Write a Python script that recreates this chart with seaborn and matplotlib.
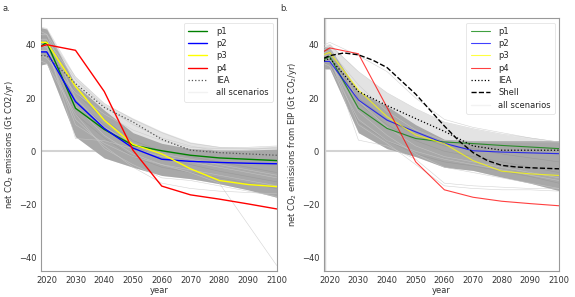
import matplotlib
matplotlib.use("Agg")
import matplotlib.pyplot as plt
import seaborn as sns
import numpy as np
import pandas as pd

sns.set_style("white")
plt.rcParams['font.family'] = ['DejaVu Sans']

years = [2018, 2020, 2030, 2040, 2050, 2060, 2070, 2080, 2090, 2100]

# ---- panel a: net CO2 emissions ----
a_p1 = [39.5, 41.0, 16.2, 8.2, 2.3, 0.2, -1.5, -2.5, -3.0, -3.5]
a_p2 = [37.4, 37.4, 18.7, 8.6, 1.2, -3.0, -3.8, -4.2, -4.5, -4.7]
a_p3 = [41.0, 41.0, 24.4, 11.7, 2.6, -1.0, -6.6, -11.0, -12.5, -13.3]
a_p4 = [39.5, 40.1, 38.0, 22.5, 0.4, -13.1, -16.4, -18.0, -19.8, -21.7]
a_iea = [36.0, 36.0, 25.5, 16.5, 11.0, 4.5, 0.4, -0.5, -1.0, -1.5]
a_light_hi = [47.0, 46.5, 28.0, 18.0, 12.5, 7.5, 3.5, 1.8, 1.5, 2.0]
a_dark_hi = [46.5, 46.0, 25.0, 15.5, 7.0, 3.0, 1.0, 0.5, 0.5, 0.8]
a_dark_lo = [32.5, 33.0, 5.5, -2.5, -6.0, -9.1, -10.3, -12.2, -14.5, -17.3]
a_scen = [
    [40.0, 40.0, 4.8, 4.0, 1.0, -2.0, -4.0, -6.0, -8.0, -10.0],
    [38.0, 38.0, 10.0, 3.0, -2.0, -5.0, -8.0, -12.0, -27.5, -43.0],
    [44.0, 44.0, 28.0, 18.0, 12.0, 7.0, 3.0, 1.5, 1.5, 2.0],
    [42.0, 42.0, 27.0, 17.0, 10.0, 5.0, 2.0, 0.0, 0.5, 1.5],
    [36.0, 35.0, 22.0, 14.0, 8.0, 4.0, 1.5, 1.0, 1.0, 1.0],
    [34.0, 33.0, 14.0, 1.0, -5.0, -10.0, -11.0, -13.0, -15.0, -17.0],
    [38.0, 38.0, 12.0, 2.0, -6.0, -12.0, -14.0, -15.0, -15.5, -16.0],
    [45.0, 44.0, 20.0, 9.0, 3.0, -1.0, -3.0, -5.0, -7.0, -9.0],
    [40.0, 39.0, 17.0, 6.0, -1.0, -5.0, -7.0, -9.0, -11.0, -13.0],
]
a_inner = [
    [43.0, 43.0, 22.0, 12.0, 4.0, 0.0, -2.0, -4.0, -6.0, -8.0],
    [37.0, 37.0, 14.0, 5.0, -2.0, -6.0, -8.0, -10.0, -12.0, -14.0],
    [41.0, 40.0, 19.0, 10.0, 2.0, -2.5, -5.0, -7.5, -9.5, -11.5],
]

# ---- panel b: net CO2 emissions from EIP ----
b_p1 = [34.5, 35.7, 16.2, 8.6, 4.8, 3.5, 2.9, 2.2, 1.6, 1.0]
b_p2 = [33.8, 33.8, 19.3, 11.7, 7.3, 3.0, 0.2, -0.3, -0.6, -0.9]
b_p3 = [36.4, 37.2, 23.1, 13.0, 6.1, 2.9, -3.5, -7.5, -8.5, -9.1]
b_p4 = [37.6, 38.9, 36.7, 16.5, -4.0, -14.5, -17.3, -18.8, -19.7, -20.5]
b_iea = [34.0, 35.0, 22.5, 17.2, 12.3, 7.5, 2.0, 0.4, 0.4, 0.4]
shell_years = [2018, 2020, 2025, 2030, 2035, 2040, 2045, 2050, 2055, 2060,
               2065, 2070, 2075, 2080, 2085, 2090, 2095, 2100]
b_shell = [35.0, 36.0, 37.0, 36.3, 34.3, 31.5, 26.5, 21.5, 15.5, 9.5,
           4.0, -0.5, -3.5, -5.3, -5.9, -6.2, -6.4, -6.6]
b_light_hi = [40.0, 40.5, 30.0, 22.0, 16.0, 11.0, 8.5, 6.5, 5.0, 3.5]
b_dark_hi = [39.5, 39.0, 22.5, 17.0, 10.0, 4.5, 4.0, 4.0, 4.0, 4.0]
b_dark_lo = [31.0, 31.0, 7.0, 1.0, -2.0, -6.0, -7.2, -9.7, -12.0, -14.8]
b_scen = [
    [40.0, 41.0, 36.0, 30.0, 20.0, 12.0, 9.0, 7.0, 5.0, 3.5],
    [38.0, 40.0, 30.0, 22.0, 16.0, 11.0, 8.5, 6.5, 5.0, 3.5],
    [36.0, 36.0, 4.2, 2.0, -3.0, -12.0, -13.0, -13.5, -14.0, -14.0],
    [35.0, 35.0, 10.0, 3.0, -5.0, -13.0, -14.0, -14.5, -14.5, -15.0],
    [34.0, 34.0, 15.0, 6.0, -1.0, -6.0, -8.0, -10.0, -12.0, -14.0],
    [37.0, 38.0, 25.0, 15.0, 8.0, 4.0, 3.5, 3.5, 3.5, 3.5],
    [39.0, 39.0, 19.0, 9.0, 2.0, -2.0, -4.0, -6.0, -8.0, -10.0],
    [33.0, 32.0, 12.0, 4.0, 0.0, -3.0, -5.0, -7.0, -9.0, -11.0],
]
b_inner = [
    [38.0, 38.0, 18.0, 10.0, 4.0, 0.0, -2.0, -4.0, -6.0, -8.0],
    [33.0, 33.0, 11.0, 4.0, -1.0, -4.0, -5.5, -7.5, -9.5, -12.0],
    [36.0, 36.0, 20.0, 12.0, 6.0, 2.0, 1.0, -1.0, -2.5, -4.0],
]

xticks = [2020, 2030, 2040, 2050, 2060, 2070, 2080, 2090, 2100]
yticks = [-40, -20, 0, 20, 40]

FS = 6
fig = plt.figure(figsize=(5.75, 2.97), dpi=100)
axa = fig.add_axes([0.0713, 0.088, 0.4100, 0.850])
axb = fig.add_axes([0.5635, 0.088, 0.4087, 0.850])


def draw(ax, p_lines, iea, light_hi, dark_hi, dark_lo, scen, inner, alpha, lw, iea_color):
    ax.axhline(0, color='lightgray', lw=1.5, zorder=0)
    ax.fill_between(years, dark_lo, light_hi, color='#e3e3e3', lw=0, zorder=1)
    ax.fill_between(years, dark_lo, dark_hi, color='#a8a8a8', lw=0, zorder=2)
    for s in inner:
        sns.lineplot(x=years, y=s, ax=ax, color='#909090', lw=0.4, alpha=0.6, zorder=3)
    for s in scen:
        sns.lineplot(x=years, y=s, ax=ax, color='#c8c8c8', lw=0.4, alpha=0.8, zorder=3)
    cols = ['green', 'blue', 'yellow', 'red']
    labs = ['p1', 'p2', 'p3', 'p4']
    for vals, c, l in zip(p_lines, cols, labs):
        sns.lineplot(x=years, y=vals, ax=ax, color=c, lw=lw, alpha=alpha, label=l, zorder=5)
    sns.lineplot(x=years, y=iea, ax=ax, color=iea_color, lw=0.9, ls=':', label='IEA', zorder=6)
    ax.set_xlim(2018, 2100)
    ax.set_ylim(-45, 50)
    ax.set_xticks(xticks)
    ax.set_yticks(yticks)
    ax.tick_params(labelsize=FS, length=2, width=0.5, colors='#333333', pad=1.5)
    for sp in ax.spines.values():
        sp.set_color('#999999')
        sp.set_linewidth(0.8)
    ax.set_xlabel('year', fontsize=FS, labelpad=1, color='#333333')


draw(axa, [a_p1, a_p2, a_p3, a_p4], a_iea, a_light_hi, a_dark_hi, a_dark_lo, a_scen,
     a_inner, 1.0, 1.0, '#555555')
draw(axb, [b_p1, b_p2, b_p3, b_p4], b_iea, b_light_hi, b_dark_hi, b_dark_lo, b_scen,
     b_inner, 0.75, 0.8, 'black')
axb.axvline(2018, color='lightgray', lw=2.5, zorder=0)
sns.lineplot(x=shell_years, y=b_shell, ax=axb, color='black', lw=1.0, ls='--',
             label='Shell', zorder=7)

for ax in (axa, axb):
    h, l = ax.get_legend_handles_labels()
    h.append(plt.Line2D([], [], color='#f2f2f2', lw=1.0))
    l.append('all scenarios')
    leg = ax.legend(h, l, loc='upper right', fontsize=FS, frameon=True,
                    borderaxespad=0.5, handlelength=2.3, labelspacing=0.4,
                    borderpad=0.5, handletextpad=1.0)
    leg.get_frame().set_edgecolor('#dddddd')
    leg.get_frame().set_linewidth(0.6)

axa.set_ylabel('net CO$_2$ emissions (Gt CO2/yr)', fontsize=FS, labelpad=2, color='#333333')
axb.set_ylabel('net CO$_2$ emissions from EIP (Gt CO$_2$/yr)', fontsize=FS, labelpad=2,
               color='#333333')

fig.text(0.004, 0.972, 'a.', fontsize=FS, va='center', ha='left', color='#333333')
fig.text(0.488, 0.972, 'b.', fontsize=FS, va='center', ha='left', color='#333333')

fig.savefig('out.png', dpi=100)
